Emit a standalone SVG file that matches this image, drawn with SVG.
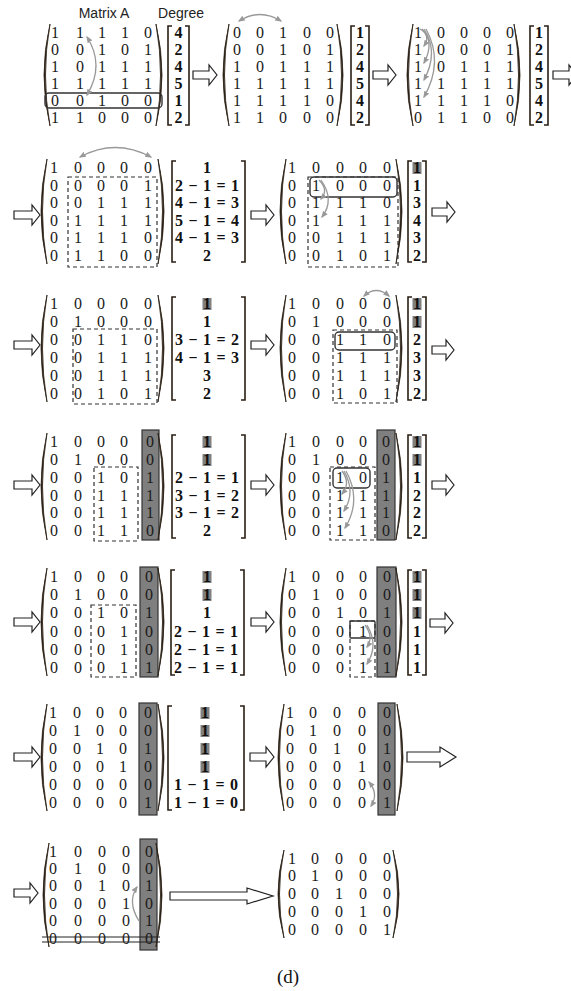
<svg xmlns="http://www.w3.org/2000/svg" width="571" height="991" viewBox="0 0 571 991">
<style>
.d{font-family:"Liberation Serif","DejaVu Serif",serif;font-size:16px;fill:#1a1a1a;text-anchor:middle}
.b{font-family:"Liberation Serif","DejaVu Serif",serif;font-size:16px;font-weight:bold;fill:#111;text-anchor:middle}
.lbl{font-family:"Liberation Sans",Arial,sans-serif;font-size:14px;fill:#222;text-anchor:middle}
.cap{font-family:"Liberation Serif","Times New Roman",serif;font-size:19px;fill:#111;text-anchor:middle}
.par{fill:#2a1f14;stroke:#2a1f14;stroke-width:0.8}
.br{fill:none;stroke:#2a1f14;stroke-width:1.6}
.dash{fill:none;stroke:#333;stroke-width:1.2;stroke-dasharray:4 3}
.box{fill:none;stroke:#333;stroke-width:1.4}
.col{fill:#7f7f7f;stroke:#333;stroke-width:1.2}
.hl{fill:#808080}
.ha{fill:#fff;stroke:#222;stroke-width:1.2}
.cv{fill:none;stroke:#999;stroke-width:1.3}
.st{stroke:#222;stroke-width:1}
</style>
<defs>
<marker id="ah" viewBox="0 0 10 10" refX="8" refY="5" markerWidth="7" markerHeight="7" markerUnits="userSpaceOnUse" orient="auto-start-reverse"><path d="M0,1 L10,5 L0,9 z" fill="#999"/></marker>
</defs>

<g id="labels">
<text class="lbl" x="104" y="18">Matrix A</text>
<text class="lbl" x="181" y="18">Degree</text>
</g>

<!-- Row 1 -->
<g id="m1">
<path class="par" d="M50,24 Q38,75 50,126 Q41,75 50,24 Z"/>
<path class="par" d="M156,24 Q168,75 156,126 Q165,75 156,24 Z"/>
<rect class="box" x="45" y="93" width="117" height="15" rx="4"/>
<text class="d" x="55 67 80 91 102 113 125 136 148" y="38">1 1 1 1 0</text>
<text class="d" x="55 67 80 91 102 113 125 136 148" y="55">0 0 1 0 1</text>
<text class="d" x="55 67 80 91 102 113 125 136 148" y="72">1 0 1 1 1</text>
<text class="d" x="55 67 80 91 102 113 125 136 148" y="89">1 1 1 1 1</text>
<text class="d" x="55 67 80 91 102 113 125 136 148" y="106">0 0 1 0 0</text>
<text class="d" x="55 67 80 91 102 113 125 136 148" y="123">1 1 0 0 0</text>
<path class="br" d="M172,26 H168 V125 H172"/><path class="br" d="M185,26 H189 V125 H185"/>
<text class="b" x="178.5" y="38">4</text><text class="b" x="178.5" y="55">2</text><text class="b" x="178.5" y="72">4</text>
<text class="b" x="178.5" y="89">5</text><text class="b" x="178.5" y="106">1</text><text class="b" x="178.5" y="123">2</text>
</g>

<g id="m2">
<path class="par" d="M229,24 Q217,75 229,126 Q220,75 229,24 Z"/>
<path class="par" d="M337,24 Q349,75 337,126 Q346,75 337,24 Z"/>
<text class="d" x="237 248 260 271 283 295 307 318 330" y="38">0 0 1 0 0</text>
<text class="d" x="237 248 260 271 283 295 307 318 330" y="55">0 0 1 0 1</text>
<text class="d" x="237 248 260 271 283 295 307 318 330" y="72">1 0 1 1 1</text>
<text class="d" x="237 248 260 271 283 295 307 318 330" y="89">1 1 1 1 1</text>
<text class="d" x="237 248 260 271 283 295 307 318 330" y="106">1 1 1 1 0</text>
<text class="d" x="237 248 260 271 283 295 307 318 330" y="123">1 1 0 0 0</text>
<path class="br" d="M355,26 H351 V125 H355"/><path class="br" d="M365,26 H369 V125 H365"/>
<text class="b" x="360" y="38">1</text><text class="b" x="360" y="55">2</text><text class="b" x="360" y="72">4</text>
<text class="b" x="360" y="89">5</text><text class="b" x="360" y="106">4</text><text class="b" x="360" y="123">2</text>
</g>

<g id="m3">
<path class="par" d="M413,24 Q401,75 413,126 Q404,75 413,24 Z"/>
<path class="par" d="M514,24 Q526,75 514,126 Q523,75 514,24 Z"/>
<text class="d" x="418 429 441 452 464 475 487 498 510" y="38">1 0 0 0 0</text>
<text class="d" x="418 429 441 452 464 475 487 498 510" y="55">1 0 0 0 1</text>
<text class="d" x="418 429 441 452 464 475 487 498 510" y="72">1 0 1 1 1</text>
<text class="d" x="418 429 441 452 464 475 487 498 510" y="89">1 1 1 1 1</text>
<text class="d" x="418 429 441 452 464 475 487 498 510" y="106">1 1 1 1 0</text>
<text class="d" x="418 429 441 452 464 475 487 498 510" y="123">0 1 1 0 0</text>
<path class="br" d="M534,26 H530 V125 H534"/><path class="br" d="M544,26 H548 V125 H544"/>
<text class="b" x="539" y="38">1</text><text class="b" x="539" y="55">2</text><text class="b" x="539" y="72">4</text>
<text class="b" x="539" y="89">5</text><text class="b" x="539" y="106">4</text><text class="b" x="539" y="123">2</text>
</g>

<!-- Row 2 -->
<g id="m4">
<path class="par" d="M47,159 Q35,211 47,264 Q38,211 47,159 Z"/>
<path class="par" d="M158,159 Q170,211 158,264 Q167,211 158,159 Z"/>
<rect class="dash" x="68" y="177" width="89" height="90"/>
<text class="d" x="54 66 78 89 101 112 124 136 148" y="173">1 0 0 0 0</text>
<text class="d" x="54 66 78 89 101 112 124 136 148" y="190.5">0 0 0 0 1</text>
<text class="d" x="54 66 78 89 101 112 124 136 148" y="208">0 0 1 1 1</text>
<text class="d" x="54 66 78 89 101 112 124 136 148" y="225.5">0 1 1 1 1</text>
<text class="d" x="54 66 78 89 101 112 124 136 148" y="243">0 1 1 1 0</text>
<text class="d" x="54 66 78 89 101 112 124 136 148" y="260.5">0 1 1 0 0</text>
<path class="br" d="M176,161 H172 V262 H176"/><path class="br" d="M241,161 H245 V262 H241"/>
<text class="b" x="207" y="173">1</text>
<text class="b" x="207" y="190.5" textLength="64">2 − 1 = 1</text>
<text class="b" x="207" y="208" textLength="64">4 − 1 = 3</text>
<text class="b" x="207" y="225.5" textLength="64">5 − 1 = 4</text>
<text class="b" x="207" y="243" textLength="64">4 − 1 = 3</text>
<text class="b" x="207" y="260.5">2</text>
</g>

<g id="m5">
<path class="par" d="M286,159 Q274,211 286,264 Q277,211 286,159 Z"/>
<path class="par" d="M396,159 Q408,211 396,264 Q405,211 396,159 Z"/>
<rect class="dash" x="308" y="177" width="90" height="90"/>
<rect class="box" x="310" y="177" width="87" height="20" rx="4"/>
<text class="d" x="292 304 316 328 340 351 363 375 387" y="173">1 0 0 0 0</text>
<text class="d" x="292 304 316 328 340 351 363 375 387" y="190.5">0 1 0 0 0</text>
<text class="d" x="292 304 316 328 340 351 363 375 387" y="208">0 1 1 1 0</text>
<text class="d" x="292 304 316 328 340 351 363 375 387" y="225.5">0 1 1 1 1</text>
<text class="d" x="292 304 316 328 340 351 363 375 387" y="243">0 0 1 1 1</text>
<text class="d" x="292 304 316 328 340 351 363 375 387" y="260.5">0 0 1 0 1</text>
<path class="br" d="M412,161 H408 V262 H412"/><path class="br" d="M422,161 H426 V262 H422"/>
<rect class="hl" x="412.5" y="162" width="9" height="12"/>
<text class="b" x="417" y="173">1</text><text class="b" x="417" y="190.5">1</text><text class="b" x="417" y="208">3</text>
<text class="b" x="417" y="225.5">4</text><text class="b" x="417" y="243">3</text><text class="b" x="417" y="260.5">2</text>
</g>

<!-- Row 3 -->
<g id="m6">
<path class="par" d="M47,295 Q35,348 47,402 Q38,348 47,295 Z"/>
<path class="par" d="M158,295 Q170,348 158,402 Q167,348 158,295 Z"/>
<rect class="dash" x="73" y="329" width="84" height="75"/>
<text class="d" x="54 66 78 89 101 112 124 136 148" y="309">1 0 0 0 0</text>
<text class="d" x="54 66 78 89 101 112 124 136 148" y="327">0 1 0 0 0</text>
<text class="d" x="54 66 78 89 101 112 124 136 148" y="345">0 0 1 1 0</text>
<text class="d" x="54 66 78 89 101 112 124 136 148" y="363">0 0 1 1 1</text>
<text class="d" x="54 66 78 89 101 112 124 136 148" y="381">0 0 1 1 1</text>
<text class="d" x="54 66 78 89 101 112 124 136 148" y="399">0 0 1 0 1</text>
<path class="br" d="M176,297 H172 V400 H176"/><path class="br" d="M241,297 H245 V400 H241"/>
<rect class="hl" x="202.5" y="298" width="9" height="12"/>
<text class="b" x="207" y="309">1</text>
<text class="b" x="207" y="327">1</text>
<text class="b" x="207" y="345" textLength="64">3 − 1 = 2</text>
<text class="b" x="207" y="363" textLength="64">4 − 1 = 3</text>
<text class="b" x="207" y="381">3</text>
<text class="b" x="207" y="399">2</text>
</g>

<g id="m7">
<path class="par" d="M286,295 Q274,348 286,402 Q277,348 286,295 Z"/>
<path class="par" d="M396,295 Q408,348 396,402 Q405,348 396,295 Z"/>
<rect class="dash" x="333" y="330" width="64" height="73"/>
<rect class="box" x="335" y="332" width="60" height="18" rx="4"/>
<text class="d" x="292 304 316 328 340 351 363 375 387" y="309">1 0 0 0 0</text>
<text class="d" x="292 304 316 328 340 351 363 375 387" y="327">0 1 0 0 0</text>
<text class="d" x="292 304 316 328 340 351 363 375 387" y="345">0 0 1 1 0</text>
<text class="d" x="292 304 316 328 340 351 363 375 387" y="363">0 0 1 1 1</text>
<text class="d" x="292 304 316 328 340 351 363 375 387" y="381">0 0 1 1 1</text>
<text class="d" x="292 304 316 328 340 351 363 375 387" y="399">0 0 1 0 1</text>
<path class="br" d="M412,297 H408 V400 H412"/><path class="br" d="M422,297 H426 V400 H422"/>
<rect class="hl" x="412.5" y="298" width="9" height="12"/>
<rect class="hl" x="412.5" y="316" width="9" height="12"/>
<text class="b" x="417" y="309">1</text><text class="b" x="417" y="327">1</text><text class="b" x="417" y="345">2</text>
<text class="b" x="417" y="363">3</text><text class="b" x="417" y="381">3</text><text class="b" x="417" y="399">2</text>
</g>

<!-- Row 4 -->
<g id="m8">
<rect class="col" x="142" y="430" width="17" height="110"/>
<path class="par" d="M47,433 Q35,486 47,540 Q38,486 47,433 Z"/>
<path class="par" d="M158,433 Q170,486 158,540 Q167,486 158,433 Z"/>
<rect class="dash" x="94" y="467" width="44" height="74"/>
<text class="d" x="54 66 78 89 101 112 124 136 150" y="447">1 0 0 0 0</text>
<text class="d" x="54 66 78 89 101 112 124 136 150" y="465">0 1 0 0 0</text>
<text class="d" x="54 66 78 89 101 112 124 136 150" y="482.5">0 0 1 0 1</text>
<text class="d" x="54 66 78 89 101 112 124 136 150" y="500.5">0 0 1 1 1</text>
<text class="d" x="54 66 78 89 101 112 124 136 150" y="518">0 0 1 1 1</text>
<text class="d" x="54 66 78 89 101 112 124 136 150" y="536">0 0 1 1 0</text>
<path class="br" d="M176,435 H172 V538 H176"/><path class="br" d="M241,435 H245 V538 H241"/>
<rect class="hl" x="202.5" y="436" width="9" height="12"/>
<rect class="hl" x="202.5" y="454" width="9" height="12"/>
<text class="b" x="207" y="447">1</text>
<text class="b" x="207" y="465">1</text>
<text class="b" x="207" y="482.5" textLength="64">2 − 1 = 1</text>
<text class="b" x="207" y="500.5" textLength="64">3 − 1 = 2</text>
<text class="b" x="207" y="518" textLength="64">3 − 1 = 2</text>
<text class="b" x="207" y="536">2</text>
</g>

<g id="m9">
<rect class="col" x="377" y="430" width="18" height="110"/>
<path class="par" d="M286,433 Q274,486 286,540 Q277,486 286,433 Z"/>
<path class="par" d="M396,433 Q408,486 396,540 Q405,486 396,433 Z"/>
<rect class="dash" x="330" y="467" width="45" height="73"/>
<rect class="box" x="333" y="468" width="37" height="20" rx="4"/>
<text class="d" x="292 304 316 328 340 351 363 375 386" y="447">1 0 0 0 0</text>
<text class="d" x="292 304 316 328 340 351 363 375 386" y="465">0 1 0 0 0</text>
<text class="d" x="292 304 316 328 340 351 363 375 386" y="482.5">0 0 1 0 1</text>
<text class="d" x="292 304 316 328 340 351 363 375 386" y="500.5">0 0 1 1 1</text>
<text class="d" x="292 304 316 328 340 351 363 375 386" y="518">0 0 1 1 1</text>
<text class="d" x="292 304 316 328 340 351 363 375 386" y="536">0 0 1 1 0</text>
<path class="br" d="M412,435 H408 V538 H412"/><path class="br" d="M422,435 H426 V538 H422"/>
<rect class="hl" x="412.5" y="436" width="9" height="12"/>
<rect class="hl" x="412.5" y="454" width="9" height="12"/>
<text class="b" x="417" y="447">1</text><text class="b" x="417" y="465">1</text><text class="b" x="417" y="482.5">1</text>
<text class="b" x="417" y="500.5">2</text><text class="b" x="417" y="518">2</text><text class="b" x="417" y="536">2</text>
</g>

<!-- Row 5 -->
<g id="m10">
<rect class="col" x="140" y="567" width="18" height="110"/>
<path class="par" d="M47,568 Q35,622 47,676 Q38,622 47,568 Z"/>
<path class="par" d="M158,568 Q170,622 158,676 Q167,622 158,568 Z"/>
<rect class="dash" x="91" y="605" width="45" height="72"/>
<text class="d" x="54 66 78 89 101 112 124 136 149" y="582">1 0 0 0 0</text>
<text class="d" x="54 66 78 89 101 112 124 136 149" y="600">0 1 0 0 0</text>
<text class="d" x="54 66 78 89 101 112 124 136 149" y="618">0 0 1 0 1</text>
<text class="d" x="54 66 78 89 101 112 124 136 149" y="637">0 0 0 1 0</text>
<text class="d" x="54 66 78 89 101 112 124 136 149" y="655">0 0 0 1 0</text>
<text class="d" x="54 66 78 89 101 112 124 136 149" y="673">0 0 0 1 1</text>
<path class="br" d="M175,570 H171 V675 H175"/><path class="br" d="M240,570 H244 V675 H240"/>
<rect class="hl" x="202.5" y="571" width="9" height="12"/>
<rect class="hl" x="202.5" y="589" width="9" height="12"/>
<text class="b" x="207" y="582">1</text>
<text class="b" x="207" y="600">1</text>
<text class="b" x="207" y="618">1</text>
<text class="b" x="206" y="637" textLength="64">2 − 1 = 1</text>
<text class="b" x="206" y="655" textLength="64">2 − 1 = 1</text>
<text class="b" x="206" y="673" textLength="64">2 − 1 = 1</text>
</g>

<g id="m11">
<rect class="col" x="377" y="567" width="19" height="110"/>
<path class="par" d="M286,568 Q274,622 286,676 Q277,622 286,568 Z"/>
<path class="par" d="M396,568 Q408,622 396,676 Q405,622 396,568 Z"/>
<rect class="dash" x="350" y="621" width="25" height="56"/>
<rect class="box" x="350" y="621" width="25" height="17" rx="1"/>
<text class="d" x="292 304 316 328 340 351 363 375 387" y="582">1 0 0 0 0</text>
<text class="d" x="292 304 316 328 340 351 363 375 387" y="600">0 1 0 0 0</text>
<text class="d" x="292 304 316 328 340 351 363 375 387" y="618">0 0 1 0 1</text>
<text class="d" x="292 304 316 328 340 351 363 375 387" y="637">0 0 0 1 0</text>
<text class="d" x="292 304 316 328 340 351 363 375 387" y="655">0 0 0 1 0</text>
<text class="d" x="292 304 316 328 340 351 363 375 387" y="673">0 0 0 1 1</text>
<path class="br" d="M412,570 H408 V675 H412"/><path class="br" d="M422,570 H426 V675 H422"/>
<rect class="hl" x="412.5" y="571" width="9" height="12"/>
<rect class="hl" x="412.5" y="589" width="9" height="12"/>
<rect class="hl" x="412.5" y="607" width="9" height="12"/>
<text class="b" x="417" y="582">1</text><text class="b" x="417" y="600">1</text><text class="b" x="417" y="618">1</text>
<text class="b" x="417" y="637">1</text><text class="b" x="417" y="655">1</text><text class="b" x="417" y="673">1</text>
</g>

<!-- Row 6 -->
<g id="m12">
<rect class="col" x="139" y="703" width="18" height="112"/>
<path class="par" d="M47,704 Q35,758 47,811 Q38,758 47,704 Z"/>
<path class="par" d="M158,704 Q170,758 158,811 Q167,758 158,704 Z"/>
<text class="d" x="53 65 77 89 100 112 123 136 148" y="718">1 0 0 0 0</text>
<text class="d" x="53 65 77 89 100 112 123 136 148" y="736">0 1 0 0 0</text>
<text class="d" x="53 65 77 89 100 112 123 136 148" y="754">0 0 1 0 1</text>
<text class="d" x="53 65 77 89 100 112 123 136 148" y="772">0 0 0 1 0</text>
<text class="d" x="53 65 77 89 100 112 123 136 148" y="790">0 0 0 0 0</text>
<text class="d" x="53 65 77 89 100 112 123 136 148" y="808">0 0 0 0 1</text>
<path class="br" d="M172,706 H168 V810 H172"/><path class="br" d="M240,706 H244 V810 H240"/>
<rect class="hl" x="200.5" y="707" width="9" height="12"/>
<rect class="hl" x="200.5" y="725" width="9" height="12"/>
<rect class="hl" x="200.5" y="743" width="9" height="12"/>
<rect class="hl" x="200.5" y="761" width="9" height="12"/>
<text class="b" x="205" y="718">1</text>
<text class="b" x="205" y="736">1</text>
<text class="b" x="205" y="754">1</text>
<text class="b" x="205" y="772">1</text>
<text class="b" x="206" y="790" textLength="64">1 − 1 = 0</text>
<text class="b" x="206" y="808" textLength="64">1 − 1 = 0</text>
</g>

<g id="m13">
<rect class="col" x="378" y="703" width="17" height="112"/>
<path class="par" d="M284,704 Q272,758 284,811 Q275,758 284,704 Z"/>
<path class="par" d="M397,704 Q409,758 397,811 Q406,758 397,704 Z"/>
<text class="d" x="290 301 313 325 337 349 362 374 387" y="718">1 0 0 0 0</text>
<text class="d" x="290 301 313 325 337 349 362 374 387" y="736">0 1 0 0 0</text>
<text class="d" x="290 301 313 325 337 349 362 374 387" y="754">0 0 1 0 1</text>
<text class="d" x="290 301 313 325 337 349 362 374 387" y="772">0 0 0 1 0</text>
<text class="d" x="290 301 313 325 337 349 362 374 387" y="790">0 0 0 0 0</text>
<text class="d" x="290 301 313 325 337 349 362 374 387" y="808">0 0 0 0 1</text>
</g>

<!-- Row 7 -->
<g id="m14">
<rect class="col" x="140" y="839" width="17" height="111"/>
<path class="par" d="M49,843 Q37,895 49,947 Q40,895 49,843 Z"/>
<path class="par" d="M156,843 Q168,895 156,947 Q165,895 156,843 Z"/>
<text class="d" x="53 65 78 90 102 114 126 137 149" y="857">1 0 0 0 0</text>
<text class="d" x="53 65 78 90 102 114 126 137 149" y="874">0 1 0 0 0</text>
<text class="d" x="53 65 78 90 102 114 126 137 149" y="891">0 0 1 0 1</text>
<text class="d" x="53 65 78 90 102 114 126 137 149" y="909">0 0 0 1 0</text>
<text class="d" x="53 65 78 90 102 114 126 137 149" y="926">0 0 0 0 1</text>
<text class="d" x="53 65 78 90 102 114 126 137 149" y="944">0 0 0 0 0</text>
<line class="st" x1="42" y1="937" x2="160" y2="937"/>
<line class="st" x1="42" y1="942" x2="160" y2="942"/>
</g>

<g id="m15">
<path class="par" d="M284,850 Q272,894 284,938 Q275,894 284,850 Z"/>
<path class="par" d="M393,850 Q405,894 393,938 Q402,894 393,850 Z"/>
<text class="d" x="292 303 315 327 339 351 363 375 387" y="864">1 0 0 0 0</text>
<text class="d" x="292 303 315 327 339 351 363 375 387" y="881">0 1 0 0 0</text>
<text class="d" x="292 303 315 327 339 351 363 375 387" y="899">0 0 1 0 0</text>
<text class="d" x="292 303 315 327 339 351 363 375 387" y="917">0 0 0 1 0</text>
<text class="d" x="292 303 315 327 339 351 363 375 387" y="935">0 0 0 0 1</text>
</g>

<g id="connectors">
<polygon class="ha" points="193,71 209,71 209,65 217,75 209,85 209,79 193,79"/>
<polygon class="ha" points="373,71 388,71 388,65 396,75 388,85 388,79 373,79"/>
<polygon class="ha" points="553,71 569,71 569,65 577,75 569,85 569,79 553,79"/>
<polygon class="ha" points="14,211 32,211 32,205 40,215 32,225 32,219 14,219"/>
<polygon class="ha" points="251,211 266,211 266,205 274,215 266,225 266,219 251,219"/>
<polygon class="ha" points="432,208 447,208 447,202 455,212 447,222 447,216 432,216"/>
<polygon class="ha" points="14,341 32,341 32,335 40,345 32,355 32,349 14,349"/>
<polygon class="ha" points="251,341 266,341 266,335 274,345 266,355 266,349 251,349"/>
<polygon class="ha" points="432,346 446,346 446,340 454,350 446,360 446,354 432,354"/>
<polygon class="ha" points="14,481 32,481 32,475 40,485 32,495 32,489 14,489"/>
<polygon class="ha" points="251,481 266,481 266,475 274,485 266,495 266,489 251,489"/>
<polygon class="ha" points="432,481 446,481 446,475 454,485 446,495 446,489 432,489"/>
<polygon class="ha" points="14,618 32,618 32,612 40,622 32,632 32,626 14,626"/>
<polygon class="ha" points="251,618 266,618 266,612 274,622 266,632 266,626 251,626"/>
<polygon class="ha" points="430,619 445,619 445,613 453,623 445,633 445,627 430,627"/>
<polygon class="ha" points="14,753 32,753 32,747 40,757 32,767 32,761 14,761"/>
<polygon class="ha" points="250,753 266,753 266,747 274,757 266,767 266,761 250,761"/>
<polygon class="ha" points="407,752 440,752 440,747 456,757 440,767 440,762 407,762"/>
<polygon class="ha" points="14,889 30,889 30,883 38,893 30,903 30,897 14,897"/>
<polygon class="ha" points="170,892 247,892 247,888 273,896 247,904 247,900 170,900"/>

<path class="cv" d="M87,37 Q105,65 87,95" marker-start="url(#ah)" marker-end="url(#ah)"/>
<path class="cv" d="M239,21 Q260,8 281,21" marker-start="url(#ah)" marker-end="url(#ah)"/>
<path class="cv" d="M420,29 Q431,35 424,46" marker-end="url(#ah)"/>
<path class="cv" d="M422,29 Q435,42 424,63" marker-end="url(#ah)"/>
<path class="cv" d="M424,29 Q439,52 424,80" marker-end="url(#ah)"/>
<path class="cv" d="M426,29 Q444,62 424,97" marker-end="url(#ah)"/>
<path class="cv" d="M80,157 Q115,138 151,157" marker-start="url(#ah)" marker-end="url(#ah)"/>
<path class="cv" d="M319,180 Q329,190 321,199" marker-end="url(#ah)"/>
<path class="cv" d="M321,180 Q335,200 322,217" marker-end="url(#ah)"/>
<path class="cv" d="M364,296 Q376,285 389,296" marker-start="url(#ah)" marker-end="url(#ah)"/>
<path class="cv" d="M342,471 Q351,483 342,494" marker-end="url(#ah)"/>
<path class="cv" d="M344,471 Q356,492 344,511" marker-end="url(#ah)"/>
<path class="cv" d="M346,471 Q362,500 345,528" marker-end="url(#ah)"/>
<path class="cv" d="M365,625 Q374,637 367,647" marker-end="url(#ah)"/>
<path class="cv" d="M367,625 Q379,645 367,664" marker-end="url(#ah)"/>
<path class="cv" d="M369,782 Q379,794 371,806" marker-start="url(#ah)" marker-end="url(#ah)"/>
<path class="cv" d="M139,921 Q127,902 137,887" marker-end="url(#ah)"/>
</g>

<g id="caption">
<text class="cap" x="288" y="983">(d)</text>
</g>
</svg>
